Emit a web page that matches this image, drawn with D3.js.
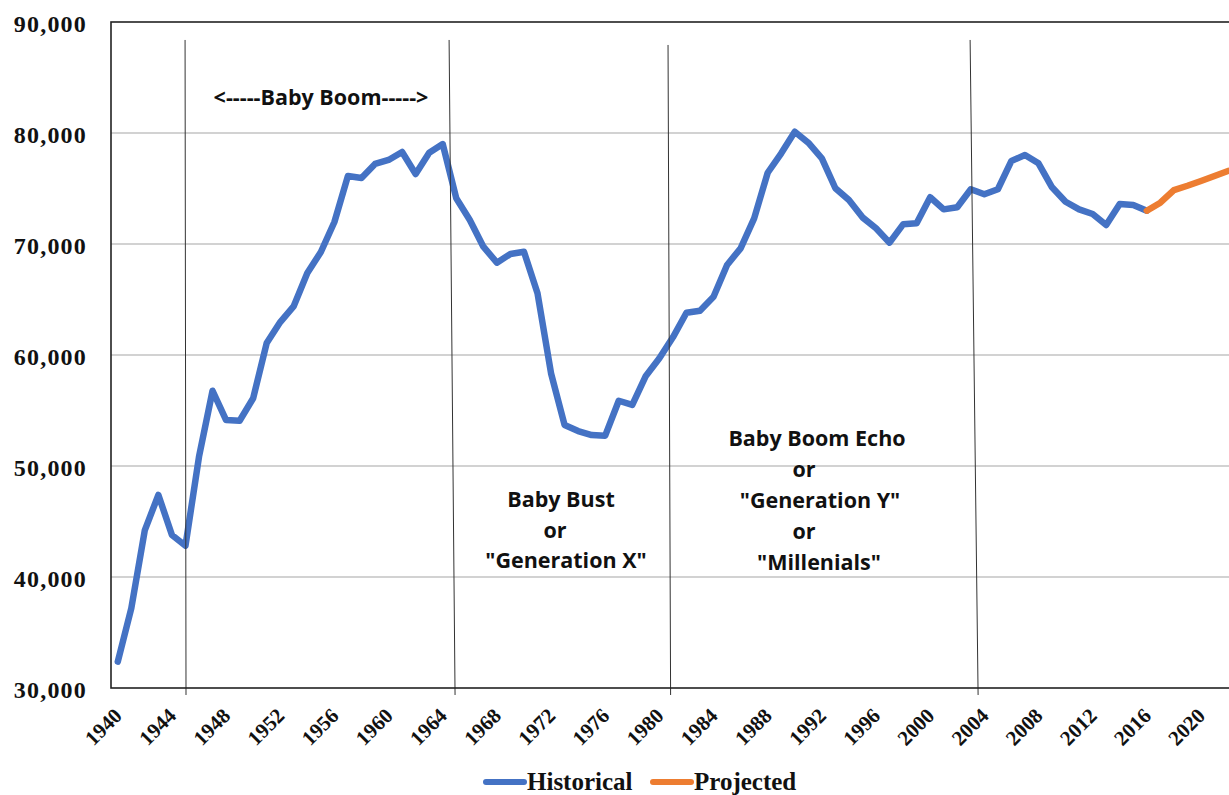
<!DOCTYPE html>
<html>
<head>
<meta charset="utf-8">
<script src="https://cdn.jsdelivr.net/npm/d3@7"></script>
<style>
  body { margin: 0; background: #fff; }
  svg { display: block; }
</style>
</head>
<body>
<svg width="1229" height="795"></svg>
<script>
// births per year
var histYears = d3.range(1940, 2017);
var histValues = [
  32370, 37180, 44230, 47390, 43780, 42820, 50840, 56780, 54140, 54080,
  56100, 61080, 62970, 64410, 67390, 69280, 71980, 76130, 75950, 77210,
  77570, 78290, 76300, 78230, 79000, 74120, 72160, 69760, 68320, 69100,
  69300, 65560, 58350, 53690, 53150, 52790, 52730, 55880, 55500, 58110,
  59700, 61590, 63810, 63990, 65250, 68110, 69610, 72310, 76420, 78170,
  80120, 79130, 77720, 75020, 73960, 72400, 71410, 70120, 71770, 71860,
  74210, 73120, 73310, 74930, 74480, 74930, 77480, 78020, 77270, 75110,
  73810, 73120, 72700, 71710, 73600, 73510, 73000
];
var projYears = d3.range(2016, 2023);
var projValues = [73000, 73720, 74860, 75250, 75680, 76130, 76580];

var yTicks = [30000, 40000, 50000, 60000, 70000, 80000, 90000];
var xTickYears = d3.range(1940, 2021, 4);

// hand-drawn generation dividers: [year at top, year at bottom]
var dividerYears = [[1944.97, 1945.04], [1964.47, 1964.91], [1980.64, 1980.83], [2002.95, 2003.54]];
var dividerTop = [88380, 88380, 87930, 88380];
var dividerBottom = 29370;

var seriesNames = ["Historical", "Projected"];
var seriesColors = ["#4472c4", "#ed7d31"];

var boomLabel = "<-----Baby Boom----->";
var bustLines = ["Baby Bust", "or", "\"Generation X\""];
var echoLines = ["Baby Boom Echo", "or", "\"Generation Y\"", "or", "\"Millenials\""];

var svg = d3.select("svg");
var plotLeft = 111, plotTop = 22, plotBottom = 688, step = 13.54;

var x = d3.scaleLinear()
  .domain([1939.5, 2022.5])
  .range([plotLeft, plotLeft + 83 * step]);
var y = d3.scaleLinear()
  .domain([30000, 90000])
  .range([plotBottom, plotTop]);

// gridlines
svg.append("g")
  .selectAll("line")
  .data(yTicks.slice(1, -1))
  .enter().append("line")
  .attr("x1", x(1939.5)).attr("x2", x(2022.5))
  .attr("y1", function(d) { return y(d); })
  .attr("y2", function(d) { return y(d); })
  .attr("stroke", "#a6a6a6")
  .attr("stroke-width", 1.2);

// y axis labels
var yAxis = svg.append("g")
  .attr("transform", "translate(" + plotLeft + ",0)")
  .call(d3.axisLeft(y).tickValues(yTicks).tickSize(0).tickPadding(24).tickFormat(d3.format(",")));
yAxis.select(".domain").remove();
yAxis.selectAll("text")
  .attr("dy", "0.38em")
  .style("font-family", "'Liberation Serif', serif")
  .style("font-weight", "bold")
  .style("font-size", "24px")
  .style("letter-spacing", "1.2px")
  .attr("fill", "#111");

// x axis labels
var xAxis = svg.append("g")
  .attr("transform", "translate(0," + plotBottom + ")")
  .call(d3.axisBottom(x).tickValues(xTickYears).tickSize(0).tickFormat(d3.format("d")));
xAxis.select(".domain").remove();
xAxis.selectAll("text")
  .attr("x", 0).attr("y", 0).attr("dy", null)
  .attr("text-anchor", "end")
  .attr("transform", "translate(5,29) rotate(-45)")
  .style("font-family", "'Liberation Serif', serif")
  .style("font-weight", "bold")
  .style("font-size", "21px")
  .attr("fill", "#111");

// series
var line = d3.line()
  .x(function(d) { return x(d[0]); })
  .y(function(d) { return y(d[1]); });

var series = [d3.zip(histYears, histValues), d3.zip(projYears, projValues)];
svg.append("g")
  .selectAll("path")
  .data(series)
  .enter().append("path")
  .attr("d", line)
  .attr("fill", "none")
  .attr("stroke", function(d, i) { return seriesColors[i]; })
  .attr("stroke-width", 6.5)
  .attr("stroke-linejoin", "round")
  .attr("stroke-linecap", "round");

// dividers
svg.append("g")
  .selectAll("line")
  .data(dividerYears)
  .enter().append("line")
  .attr("x1", function(d) { return x(d[0]); })
  .attr("x2", function(d) { return x(d[1]); })
  .attr("y1", function(d, i) { return y(dividerTop[i]); })
  .attr("y2", y(dividerBottom))
  .attr("stroke", "#333")
  .attr("stroke-width", 1);

// plot frame
svg.append("rect")
  .attr("x", plotLeft).attr("y", plotTop)
  .attr("width", x(2022.5) - plotLeft).attr("height", plotBottom - plotTop)
  .attr("fill", "none")
  .attr("stroke", "#222")
  .attr("stroke-width", 1.6);

// annotations
function note(lines, cx, y0, gap) {
  svg.append("g")
    .selectAll("text")
    .data(lines)
    .enter().append("text")
    .attr("x", function(d, i) { return cx[i]; })
    .attr("y", function(d, i) { return y0 + i * gap; })
    .attr("text-anchor", "middle")
    .style("font-family", "'Open Sans', sans-serif")
    .style("font-weight", "bold")
    .style("font-size", "21.5px")
    .attr("fill", "#111")
    .text(function(d) { return d; });
}
note([boomLabel], [321], 105, 0);
note(bustLines, [561, 555, 566], 507, 30.5);
note(echoLines, [817, 804, 820, 804, 819], 446, 31);

// legend
var legend = svg.append("g");
var legendX = [486, 653];
seriesNames.forEach(function(name, i) {
  legend.append("line")
    .attr("x1", legendX[i]).attr("x2", legendX[i] + 38)
    .attr("y1", 782).attr("y2", 782)
    .attr("stroke", seriesColors[i])
    .attr("stroke-width", 6)
    .attr("stroke-linecap", "round");
  legend.append("text")
    .attr("x", legendX[i] + 41)
    .attr("y", 790)
    .style("font-family", "'Liberation Serif', serif")
    .style("font-weight", "bold")
    .style("font-size", "25px")
    .attr("fill", "#111")
    .text(name);
});
</script>
</body>
</html>
